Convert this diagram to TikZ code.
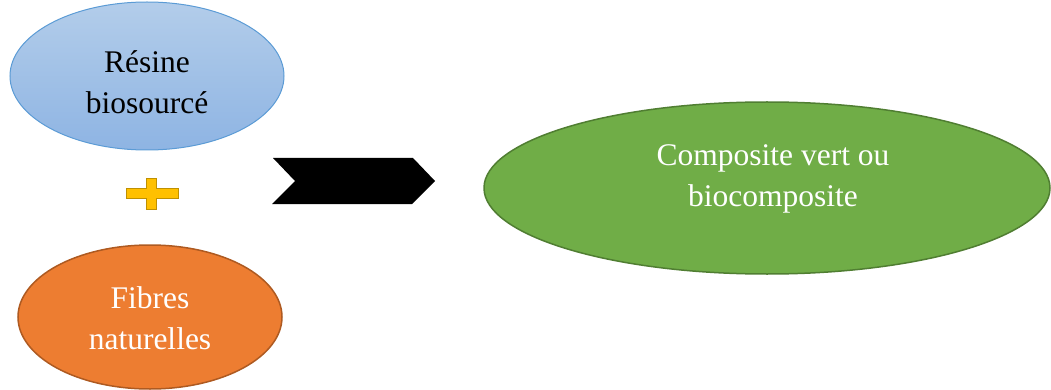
\documentclass[tikz,border=0pt]{standalone}
\usepackage{fontspec}
\setmainfont{Liberation Serif}
\usetikzlibrary{shapes.geometric}
\definecolor{bluetop}{HTML}{B3CDEA}
\definecolor{bluebot}{HTML}{8EB4E3}
\definecolor{blueline}{HTML}{5B9BD5}
\definecolor{orfill}{HTML}{ED7D31}
\definecolor{orline}{HTML}{AE5A21}
\definecolor{grfill}{HTML}{70AD47}
\definecolor{grline}{HTML}{507E32}
\definecolor{plusfill}{HTML}{FFC000}
\definecolor{plusline}{HTML}{BF9000}
\tikzset{
  ell/.style={ellipse, inner sep=0pt, line width=1pt},
  lbl/.style={align=center, font=\fontsize{31.5}{41}\selectfont, inner sep=0pt},
}
\begin{document}
\begin{tikzpicture}[x=1pt,y=-1pt]
\useasboundingbox (0,0) rectangle (1051,390);
% blue ellipse
\node[ell, draw=blueline, top color=bluetop, bottom color=bluebot,
      minimum width=274pt, minimum height=148pt] (resine) at (147,76) {};
\node[lbl, text=black] (resinetxt) at (147,82) {Résine\\biosourcé};
% orange ellipse
\node[ell, draw=orline, line width=1.5pt, fill=orfill,
      minimum width=264pt, minimum height=144pt] (fibres) at (150,317) {};
\node[lbl, text=white] (fibrestxt) at (150,318) {Fibres\\naturelles};
% plus sign
\draw[fill=plusfill, draw=plusline, line width=1pt]
  (126,188.5) -- (146.5,188.5) -- (146.5,178.5) -- (156.5,178.5) -- (156.5,188.5)
  -- (178,188.5) -- (178,198.5) -- (156.5,198.5) -- (156.5,209) -- (146.5,209)
  -- (146.5,198.5) -- (126,198.5) -- cycle;
% chevron
\fill[black] (273,158) -- (413,158) -- (435,181) -- (412,204) -- (272,204) -- (295,181) -- cycle;
% green ellipse
\node[ell, draw=grline, line width=1.5pt, fill=grfill,
      minimum width=566pt, minimum height=172pt] (comp) at (767,188) {};
\node[lbl, text=white] (comptxt) at (773,179) {Composite vert ou\\biocomposite};
\end{tikzpicture}
\end{document}
